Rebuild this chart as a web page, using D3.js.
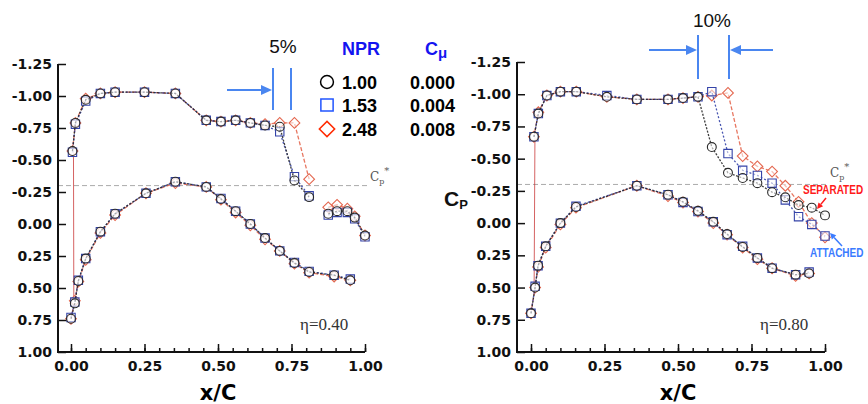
<!DOCTYPE html>
<html>
<head>
<meta charset="utf-8">
<title>Cp distributions</title>
<script src="https://d3js.org/d3.v7.min.js"></script>
<style>
  body { margin: 0; background: #fff; }
  text { font-family: "Liberation Sans", Arial, sans-serif; }
  .tick text { font-family: "DejaVu Sans", sans-serif; font-weight: bold; font-size: 14px; fill: #111; }
  .tick line { stroke: #111; stroke-width: 1.5; }
</style>
</head>
<body>
<script>
// legend
const npr = ["1.00", "1.53", "2.48"]
const cmu = ["0.000", "0.004", "0.008"]

const yTicks = [-1.25, -1.00, -0.75, -0.50, -0.25, 0.00, 0.25, 0.50, 0.75, 1.00]
const xTicks = [0, 0.25, 0.5, 0.75, 1]
const cpStar = -0.30

// eta = 0.40, upper surface (null = gap)
const leftUpperX = [0.005, 0.015, 0.05, 0.10, 0.15, 0.25, 0.355, 0.46, 0.51, 0.56, 0.61, 0.66, 0.71, 0.76, 0.81, 0.84, 0.875, 0.905, 0.94, 0.965, 1.00]
const circleLU  = [-0.57, -0.79, -0.97, -1.02, -1.03, -1.03, -1.02, -0.81, -0.80, -0.81, -0.79, -0.77, -0.76, -0.34, -0.21, null, -0.08, -0.10, -0.10, -0.05, 0.09]
const squareLU  = [-0.56, -0.78, -0.96, -1.02, -1.03, -1.03, -1.02, -0.81, -0.80, -0.81, -0.79, -0.77, -0.72, -0.37, -0.22, null, -0.07, -0.09, -0.09, -0.04, 0.10]
const diamondLU = [-0.57, -0.79, -0.98, -1.02, -1.03, -1.03, -1.02, -0.81, -0.80, -0.81, -0.79, -0.78, -0.79, -0.79, -0.35, null, -0.13, -0.15, -0.12, -0.06, 0.09]
// eta = 0.40, lower surface
const leftLowerX = [0.0, 0.013, 0.025, 0.05, 0.10, 0.15, 0.255, 0.355, 0.46, 0.51, 0.56, 0.61, 0.66, 0.71, 0.76, 0.81, 0.895, 0.95]
const circleLL  = [0.74, 0.62, 0.445, 0.27, 0.06, -0.08, -0.24, -0.33, -0.29, -0.195, -0.10, 0.00, 0.11, 0.21, 0.305, 0.375, 0.40, 0.44]
const squareLL  = [0.73, 0.61, 0.44, 0.27, 0.06, -0.08, -0.24, -0.33, -0.29, -0.20, -0.10, 0.00, 0.11, 0.21, 0.30, 0.37, 0.40, 0.43]
const diamondLL = [0.74, 0.60, 0.45, 0.28, 0.07, -0.07, -0.24, -0.32, -0.29, -0.19, -0.09, 0.01, 0.12, 0.21, 0.31, 0.38, 0.41, 0.44]

// eta = 0.80, upper surface
const rightUpperX = [0.01, 0.025, 0.054, 0.10, 0.154, 0.258, 0.36, 0.466, 0.517, 0.568, 0.615, 0.67, 0.72, 0.77, 0.82, 0.865, 0.91, 0.955, 1.00]
const circleRU  = [-0.67, -0.85, -0.99, -1.02, -1.02, -0.98, -0.96, -0.96, -0.97, -0.98, -0.59, -0.39, -0.35, -0.31, -0.24, -0.20, -0.14, -0.12, -0.06]
const squareRU  = [-0.67, -0.85, -0.99, -1.02, -1.02, -0.99, -0.96, -0.96, -0.97, -0.98, -1.02, -0.54, -0.41, -0.37, -0.31, -0.18, -0.05, 0.01, 0.10]
const diamondRU = [-0.67, -0.86, -0.99, -1.02, -1.02, -0.98, -0.96, -0.96, -0.97, -0.98, -0.99, -1.01, -0.52, -0.44, -0.40, -0.29, -0.165, 0.00, 0.11]
// eta = 0.80, lower surface
const rightLowerX = [0.0, 0.014, 0.024, 0.05, 0.10, 0.153, 0.36, 0.466, 0.517, 0.568, 0.62, 0.667, 0.72, 0.77, 0.82, 0.90, 0.946]
const circleRL  = [0.70, 0.50, 0.33, 0.18, 0.00, -0.125, -0.29, -0.22, -0.165, -0.095, -0.01, 0.085, 0.185, 0.27, 0.35, 0.40, 0.39]
const squareRL  = [0.70, 0.49, 0.33, 0.18, 0.00, -0.13, -0.29, -0.22, -0.16, -0.09, -0.01, 0.09, 0.18, 0.27, 0.35, 0.40, 0.38]
const diamondRL = [0.70, 0.50, 0.34, 0.19, 0.01, -0.12, -0.29, -0.21, -0.16, -0.09, 0.00, 0.09, 0.19, 0.28, 0.35, 0.41, 0.39]

const styles = [
  {stroke: "#2a2a2a", dash: "2,1.5", sym: d3.symbolCircle, size: 62, rot: 0},
  {stroke: "#3443a8", dash: "2,2", sym: d3.symbolSquare, size: 70, rot: 0},
  {stroke: "#e4674f", dash: "4,2", sym: d3.symbolSquare, size: 58, rot: 45}
]

const panels = [
  {xr: [71, 365], yr: [64, 352], ax: 58, upX: leftUpperX, up: [circleLU, squareLU, diamondLU],
   loX: leftLowerX, lo: [circleLL, squareLL, diamondLL], eta: "η=0.40", etaX: 300, starX: 370, starY: 181},
  {xr: [531, 825], yr: [62, 352], ax: 517, upX: rightUpperX, up: [circleRU, squareRU, diamondRU],
   loX: rightLowerX, lo: [circleRL, squareRL, diamondRL], eta: "η=0.80", etaX: 760, starX: 830, starY: 177}
]

const svg = d3.select("body").append("svg")
  .attr("width", 868).attr("height", 404)

const fmt = d => d.toFixed(2)

panels.forEach(p => {
  const x = d3.scaleLinear().domain([0, 1]).range(p.xr)
  const y = d3.scaleLinear().domain([-1.25, 1]).range(p.yr)
  const g = svg.append("g")

  // Cp* reference line
  g.append("line")
    .attr("x1", p.ax).attr("x2", p.xr[1] + 2)
    .attr("y1", y(cpStar)).attr("y2", y(cpStar))
    .attr("stroke", "#aaa").attr("stroke-width", 1).attr("stroke-dasharray", "5,3")
  const st = g.append("text").attr("x", p.starX).attr("y", p.starY)
    .style("font-family", "DejaVu Serif, serif").style("font-size", "12px").attr("fill", "#555")
  st.append("tspan").text("C")
  st.append("tspan").attr("dy", 3).style("font-size", "8px").text("p")
  st.append("tspan").attr("dy", -10).style("font-size", "10px").text("*")

  // axes
  g.append("g").attr("transform", `translate(${p.ax},0)`)
    .call(d3.axisLeft(y).tickValues(yTicks).tickFormat(fmt).tickSizeInner(-8).tickSizeOuter(0).tickPadding(6))
    .call(a => a.select(".domain").remove())
  g.append("g").attr("transform", `translate(0,${p.yr[1]})`)
    .call(d3.axisBottom(x).tickValues(d3.range(0, 1.001, 0.05)).tickFormat("").tickSizeInner(-4).tickSizeOuter(0))
    .call(a => a.select(".domain").remove())
  g.append("g").attr("transform", `translate(0,${p.yr[1]})`)
    .call(d3.axisBottom(x).tickValues(xTicks).tickFormat(fmt).tickSizeInner(-8).tickSizeOuter(0).tickPadding(9))
    .call(a => a.select(".domain").remove())
  g.append("path")
    .attr("d", `M${p.ax},${p.yr[0]}V${p.yr[1]}H${p.xr[1]}`)
    .attr("fill", "none").attr("stroke", "#111").attr("stroke-width", 2)

  // leading edge connector of the NPR 2.48 run
  g.append("line")
    .attr("x1", x(p.upX[0]) + 1).attr("y1", y(p.up[2][0]))
    .attr("x2", x(p.loX[1]) - 1).attr("y2", y(p.lo[2][1]))
    .attr("stroke", "#c83030").attr("stroke-width", 1).attr("opacity", 0.75)

  const line = d3.line().defined(d => d[1] !== null).x(d => x(d[0])).y(d => y(d[1]))

  // draw in reverse so circles sit on top
  d3.range(2, -1, -1).forEach(i => {
    const s = styles[i]
    const sets = [p.upX.map((v, k) => [v, p.up[i][k]]), p.loX.map((v, k) => [v, p.lo[i][k]])]
    sets.forEach(pts => {
      g.append("path").datum(pts).attr("d", line)
        .attr("fill", "none").attr("stroke", s.stroke).attr("stroke-width", 1.3)
        .attr("stroke-dasharray", s.dash).attr("opacity", 0.9)
    })
    sets.forEach(pts => {
      g.selectAll(null).data(pts.filter(d => d[1] !== null)).enter()
        .append("path")
        .attr("d", d3.symbol(s.sym, s.size))
        .attr("transform", d => `translate(${x(d[0])},${y(d[1])}) rotate(${s.rot})`)
        .attr("fill", "rgba(255,255,255,0.55)").attr("stroke", s.stroke).attr("stroke-width", 1.1)
    })
  })

  g.append("text").attr("x", p.etaX).attr("y", 330)
    .style("font-family", "Liberation Serif, serif").style("font-size", "17px").attr("fill", "#333")
    .text(p.eta)

  g.append("text").attr("x", (p.xr[0] + p.xr[1]) / 2).attr("y", 400).attr("text-anchor", "middle")
    .style("font-family", "DejaVu Sans, sans-serif").style("font-weight", "bold").style("font-size", "21px")
    .text("x/C")
})

// Cp axis label on the right panel, left of the tick labels
const cpLab = svg.append("text").attr("x", 444).attr("y", 206)
  .style("font-weight", "bold").style("font-size", "21px").attr("fill", "#111")
cpLab.append("tspan").text("C")
cpLab.append("tspan").attr("dy", 3).style("font-size", "13px").text("P")

// legend
const blue = "#1414f0"
svg.append("text").attr("x", 342).attr("y", 55).attr("fill", blue)
  .style("font-weight", "bold").style("font-size", "18px").text("NPR")
const cmuLab = svg.append("text").attr("x", 425).attr("y", 55).attr("fill", blue)
  .style("font-weight", "bold").style("font-size", "18px")
cmuLab.append("tspan").text("C")
cmuLab.append("tspan").attr("dy", 3).style("font-size", "15px").text("μ")

const legendRows = [82, 105, 129]
const legendSym = [
  {sym: d3.symbolCircle, size: 130, rot: 0, stroke: "#000"},
  {sym: d3.symbolSquare, size: 150, rot: 0, stroke: "#2255ff"},
  {sym: d3.symbolSquare, size: 118, rot: 45, stroke: "#ff2a00"}
]
legendRows.forEach((ry, i) => {
  const s = legendSym[i]
  svg.append("path").attr("d", d3.symbol(s.sym, s.size))
    .attr("transform", `translate(327,${ry}) rotate(${s.rot})`)
    .attr("fill", "none").attr("stroke", s.stroke).attr("stroke-width", 1.5)
  svg.append("text").attr("x", 342).attr("y", ry + 7)
    .style("font-weight", "bold").style("font-size", "18px").text(npr[i])
  svg.append("text").attr("x", 410).attr("y", ry + 7)
    .style("font-weight", "bold").style("font-size", "18px").text(cmu[i])
})

// arrows and markers
const arrow = (x1, y1, x2, y2, color, len, half, w) => {
  const a = Math.atan2(y2 - y1, x2 - x1)
  const bx = x2 - len * Math.cos(a), by = y2 - len * Math.sin(a)
  svg.append("line").attr("x1", x1).attr("y1", y1).attr("x2", bx).attr("y2", by)
    .attr("stroke", color).attr("stroke-width", w)
  const px = -Math.sin(a) * half, py = Math.cos(a) * half
  svg.append("path")
    .attr("d", `M${x2},${y2}L${bx + px},${by + py}L${bx - px},${by - py}Z`)
    .attr("fill", color)
}
const vbar = (xx, y1, y2) => svg.append("line").attr("x1", xx).attr("x2", xx)
  .attr("y1", y1).attr("y2", y2).attr("stroke", "#4a86f0").attr("stroke-width", 2)

svg.append("text").attr("x", 283).attr("y", 53).attr("text-anchor", "middle")
  .style("font-size", "19px").attr("fill", "#111").text("5%")
vbar(273, 68, 110)
vbar(291, 68, 110)
arrow(227, 90, 272, 90, "#4a86f0", 11, 5, 2)

svg.append("text").attr("x", 712).attr("y", 27).attr("text-anchor", "middle")
  .style("font-size", "19px").attr("fill", "#111").text("10%")
vbar(698, 35, 79)
vbar(729, 35, 79)
arrow(649, 50, 697, 50, "#4a86f0", 11, 5, 2)
arrow(773, 50, 730, 50, "#4a86f0", 11, 5, 2)

// narrow tall labels: small font stretched vertically
svg.append("text").attr("transform", "translate(803,194) scale(1,1.35)")
  .style("font-weight", "bold").style("font-size", "10px").attr("fill", "#ff1a1a").text("SEPARATED")
arrow(826, 198, 817, 209, "#ff1a1a", 6, 3, 1.5)
svg.append("text").attr("transform", "translate(810,257) scale(1,1.35)")
  .style("font-weight", "bold").style("font-size", "10px").attr("fill", "#3a7bff").text("ATTACHED")
arrow(842, 246, 830, 233, "#3a7bff", 6, 3, 1.5)
</script>
</body>
</html>
